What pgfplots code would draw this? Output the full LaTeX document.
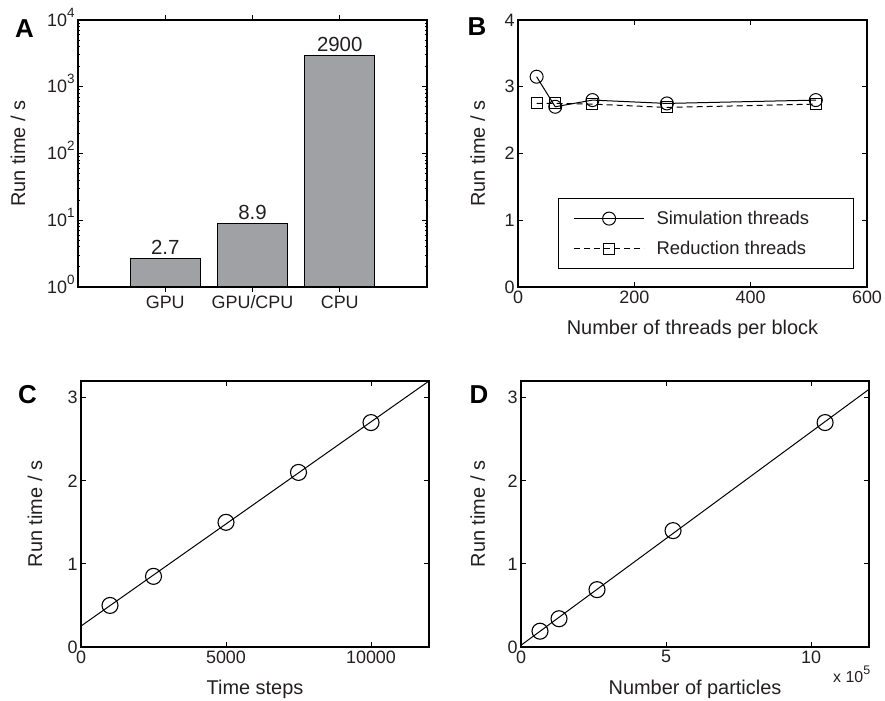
\documentclass[border=0pt]{standalone}
\usepackage{fontspec}
\setmainfont{Liberation Sans}
\usepackage{pgfplots}
\pgfplotsset{compat=1.18}
\definecolor{bargray}{RGB}{160,161,164}
\definecolor{txt}{RGB}{35,31,32}
\newcommand{\sups}[1]{\smash{\raisebox{9bp}{\fontsize{13.5}{14}\selectfont #1}}}
\pgfplotsset{
  every axis/.append style={
    scale only axis,
    font=\fontsize{18}{21}\selectfont,
    axis line style={line width=1.3bp},
    every tick/.style={black, line width=0.9bp},
    major tick length=5bp,
    minor tick length=2.5bp,
    /pgf/number format/assume math mode=true,
    /pgf/number format/1000 sep={},
    scaled ticks=false,
    tick align=inside,
    tick label style={text=txt},
    label style={font=\fontsize{20}{24}\selectfont, text=txt},
    xlabel style={yshift=-10bp},
    ylabel={Run time / s},
  },
}
\begin{document}
\begin{tikzpicture}
\useasboundingbox (0bp,0bp) rectangle (885bp,701bp);
% ---------------- A
\begin{axis}[at={(78bp,414bp)}, anchor=south west, width=349bp, height=267bp,
  ymode=log, ymin=1, ymax=10000, xmin=0, xmax=4,
  xtick={1,2,3}, xticklabels={GPU,GPU/CPU,CPU},
  ytick={1,10,100,1000,10000},
  yticklabels={10\sups{0},10\sups{1},10\sups{2},10\sups{3},10\sups{4}},
  ylabel style={at={(axis description cs:-0.172,0.5)}, anchor=center},
  ybar, bar width=0.8,
  nodes near coords, point meta=explicit symbolic,
  nodes near coords style={font=\fontsize{20.5}{24}\selectfont, text=txt},
]
\addplot[fill=bargray, draw=black, line width=1bp] coordinates {(1,2.7)[2.7] (2,8.9)[8.9] (3,2900)[2900]};
\end{axis}
% ---------------- B
\begin{axis}[at={(518bp,414bp)}, anchor=south west, width=349bp, height=267bp,
  xmin=0, xmax=600, ymin=0, ymax=4,
  xtick={0,200,400,600}, ytick={0,1,2,3,4},
  xlabel={Number of threads per block},
  ylabel style={at={(axis description cs:-0.115,0.5)}, anchor=center},
  legend cell align=left,
  legend style={at={(0.1146,0.3333)}, anchor=north west, draw=black, line width=1.2bp,
    inner xsep=15bp, inner ysep=5bp, font=\fontsize{18.5}{22}\selectfont,
    nodes={inner sep=0pt, minimum height=30bp, text=txt}},
  legend image code/.code={\draw[mark repeat=2,mark phase=2] plot coordinates {(0bp,0bp) (35bp,0bp) (70bp,0bp)};},
]
\addplot[black, line width=1bp, mark=o, mark size=6.5bp, mark options={line width=1bp}]
  coordinates {(32,3.15) (64,2.7) (128,2.8) (256,2.75) (512,2.8)};
\addlegendentry{\hspace*{12bp}\makebox[182bp][l]{Simulation threads}}
\addplot[black, line width=1bp, dash pattern=on 6bp off 4bp, mark=square, mark size=5.5bp, mark options={solid, line width=1bp}]
  coordinates {(32,2.75) (64,2.75) (128,2.74) (256,2.69) (512,2.74)};
\addlegendentry{\hspace*{12bp}\makebox[182bp][l]{Reduction threads}}
\end{axis}
% ---------------- C
\begin{axis}[at={(81bp,54bp)}, anchor=south west, width=348bp, height=266bp,
  xmin=0, xmax=12000, ymin=0, ymax=3.2,
  xtick={0,5000,10000}, ytick={0,1,2,3},
  xlabel={Time steps},
  ylabel style={at={(axis description cs:-0.132,0.5)}, anchor=center},
]
\addplot[black, line width=1bp, mark=none] coordinates {(0,0.252) (12000,3.2)};
\addplot[black, only marks, mark=o, mark size=8bp, mark options={line width=1.1bp}]
  coordinates {(1000,0.5) (2500,0.85) (5000,1.5) (7500,2.1) (10000,2.7)};
\end{axis}
% ---------------- D
\begin{axis}[at={(521bp,54bp)}, anchor=south west, width=348bp, height=266bp,
  xmin=0, xmax=12, ymin=0, ymax=3.2,
  xtick={0,5,10}, ytick={0,1,2,3},
  xlabel={Number of particles},
  ylabel style={at={(axis description cs:-0.124,0.5)}, anchor=center},
]
\addplot[black, line width=1bp, mark=none] coordinates {(0,0.021) (12,3.1)};
\addplot[black, only marks, mark=o, mark size=8bp, mark options={line width=1.1bp}]
  coordinates {(0.655,0.19) (1.311,0.34) (2.621,0.69) (5.243,1.40) (10.486,2.70)};
\end{axis}
\node[anchor=base west, inner sep=0pt, text=txt, font=\fontsize{16}{19}\selectfont] at (833bp,19bp) {x 10\smash{\raisebox{8bp}{\fontsize{12.5}{13}\selectfont 5}}};
% panel letters
\begin{scope}[every node/.style={inner sep=0pt, font=\fontsize{26}{30}\selectfont\bfseries}]
\node at (24.5bp,672.5bp) {A};
\node at (477bp,674bp) {B};
\node at (27.5bp,306bp) {C};
\node at (479bp,306bp) {D};
\end{scope}
\end{tikzpicture}
\end{document}
